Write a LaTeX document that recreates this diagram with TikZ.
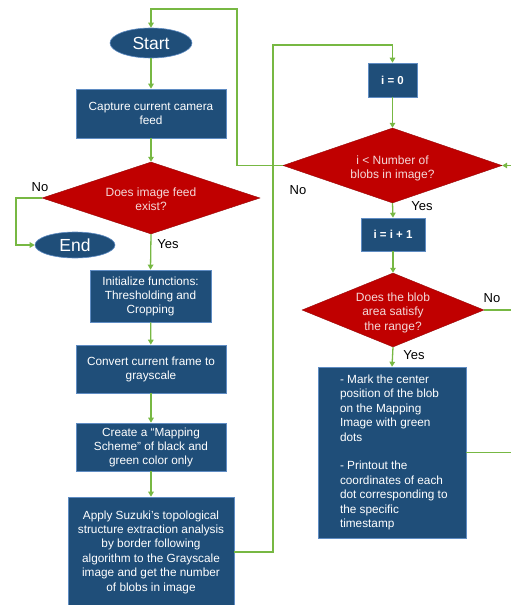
\documentclass[tikz,border=0pt]{standalone}
\usepackage{fontspec}
\setmainfont{Liberation Sans}
\usetikzlibrary{shapes.geometric,arrows.meta}
\definecolor{boxblue}{RGB}{31,78,121}
\definecolor{boxedge}{RGB}{95,140,195}
\definecolor{decred}{RGB}{192,0,0}
\definecolor{decedge}{RGB}{150,10,10}
\definecolor{dectext}{RGB}{244,216,216}
\definecolor{flowgreen}{RGB}{119,184,67}
\newcommand{\dtext}[1]{\smash{\makebox[0pt]{\raisebox{-6pt}{\begin{tabular}{@{}c@{}}#1\end{tabular}}}}}
\tikzset{
  procbox/.style={rectangle, fill=boxblue, draw=boxedge, line width=0.6pt, text=white, align=center, inner sep=0pt, font=\fontsize{11.8}{14}\selectfont},
  decbox/.style={diamond, fill=decred, draw=decedge, line width=0.4pt, text=dectext, inner sep=0pt, font=\fontsize{12}{14.2}\selectfont},
  termbox/.style={ellipse, fill=boxblue, draw=boxedge, line width=0.6pt, text=white, inner sep=0pt, font=\fontsize{17.5}{20}\selectfont},
  flow/.style={draw=flowgreen, line width=1.3pt, -{Triangle[length=5pt,width=5.5pt]}},
  flowline/.style={draw=flowgreen, line width=1.3pt},
  lbl/.style={font=\fontsize{13}{15}\selectfont, text=black, inner sep=0pt},
}
\begin{document}
\begin{tikzpicture}[x=1pt,y=-1pt]
\useasboundingbox (0,0) rectangle (511,605);
\clip (0,0) rectangle (511,605);

% left column
\node[termbox, minimum width=82pt, minimum height=30pt] (start) at (151,43) {Start};
\node[procbox, minimum width=150pt, minimum height=49pt] (capture) at (151,113.5) {Capture current camera\\feed};
\node[decbox, minimum width=218pt, minimum height=72pt] (feed) at (151,198) {\dtext{Does image feed\\exist?}};
\node[termbox, minimum width=80pt, minimum height=26pt] (end) at (75,245) {End};
\node[procbox, minimum width=121pt, minimum height=52pt] (init) at (150.5,296) {Initialize functions:\\Thresholding and\\Cropping};
\node[procbox, minimum width=150pt, minimum height=48pt] (convert) at (151,369) {Convert current frame to\\grayscale};
\node[procbox, minimum width=150pt, minimum height=48pt] (create) at (151,447) {Create a “Mapping\\Scheme” of black and\\green color only};
\node[procbox, minimum width=166pt, minimum height=110pt, font=\fontsize{11.8}{14.4}\selectfont] (apply) at (151,552) {Apply Suzuki’s topological\\structure extraction analysis\\by border following\\algorithm to the Grayscale\\image and get the number\\of blobs in image};

% right column
\node[procbox, minimum width=49pt, minimum height=34pt, font=\fontsize{11.5}{14}\selectfont\bfseries] (izero) at (392.5,80) {i = 0};
\node[decbox, minimum width=219pt, minimum height=75pt] (cond) at (392.5,165.5) {\dtext{i < Number of\\blobs in image?}};
\node[procbox, minimum width=64pt, minimum height=33pt, font=\fontsize{11.5}{14}\selectfont\bfseries] (inc) at (393,234.5) {i = i + 1};
\node[decbox, minimum width=182pt, minimum height=74pt] (range) at (393,310) {\dtext{Does the blob\\area satisfy\\the range?}};
\node[procbox, minimum width=148pt, minimum height=171pt, font=\fontsize{11.8}{14.4}\selectfont] (mark) at (392,452.5) {\parbox[c]{137pt}{\raggedright\leftskip=16.5pt\hangindent=7pt\hangafter=1 - Mark the center\\position of the blob\\on the Mapping\\Image with green\\dots\par\vspace{14.4pt}\hangindent=7pt\hangafter=1 - Printout the\\coordinates of each\\dot corresponding to\\the specific\\timestamp}};

% bend points and free ends
\coordinate (nobend) at (16,198);
\coordinate (loopB) at (273,45);
\coordinate (topR) at (237,9);
\coordinate (rangeOut) at (516,310);
\coordinate (markOut) at (516,452.5);
\coordinate (condIn) at (516,165.5);

% connectors
\draw[flow] (start) -- (capture);
\draw[flow] (capture) -- (feed);
\draw[flow] (feed.west) -- (nobend) |- (end.west);
\draw[flow] (feed.south) -- (init.north);
\draw[flow] (init) -- (convert);
\draw[flow] (convert) -- (create);
\draw[flow] (create) -- (apply);
\draw[flow] (apply.east) -| (loopB) -| (izero.north);
\draw[flow] (izero) -- (cond);
\draw[flow] (cond.west) -| (topR) -| (start.north);
\draw[flow] (cond.south) -- (inc.north);
\draw[flow] (inc) -- (range);
\draw[flow] (range.south) -- (mark.north);
\draw[flowline] (range.east) -- (rangeOut);
\draw[flowline] (mark.east) -- (markOut);
\draw[flow] (condIn) -- (cond.east);

% labels
\node[lbl] (lno1) at (40,187) {No};
\node[lbl] (lyes1) at (168,244) {Yes};
\node[lbl] (lno2) at (298,190) {No};
\node[lbl] (lyes2) at (422,206) {Yes};
\node[lbl] (lno3) at (492,298) {No};
\node[lbl] (lyes3) at (414,355) {Yes};
\end{tikzpicture}
\end{document}
